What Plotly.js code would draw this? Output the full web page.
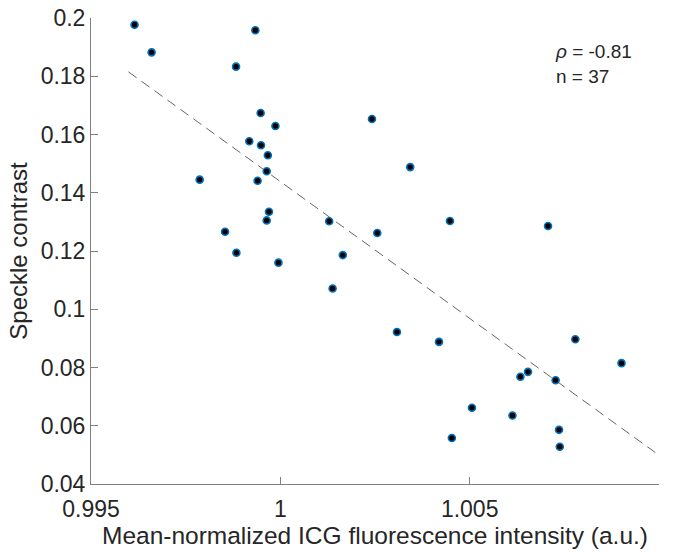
<!DOCTYPE html>
<html>
<head>
<meta charset="utf-8">
<script src="https://cdn.plot.ly/plotly-3.0.1.min.js"></script>
<style>html,body{margin:0;padding:0;background:#fff;}#chart{width:680px;height:552px;}</style>
</head>
<body>
<div id="chart"></div>
<script>
// Data
const icg = [0.99615, 0.9966, 0.99934, 0.99883, 0.99948, 0.99987, 0.99918, 0.99949, 0.99967, 0.99964,
  0.9994, 0.99787, 0.9997, 0.99964, 0.99854, 0.99884, 0.99995, 1.00129, 1.00165, 1.00138,
  1.00242, 1.00343, 1.00256, 1.00448, 1.00308, 1.00419, 1.00707, 1.00779, 1.00901, 1.00634,
  1.00654, 1.00727, 1.00506, 1.00613, 1.00453, 1.00736, 1.00738];
const speckle = [0.1977, 0.1882, 0.1958, 0.1833, 0.1674, 0.1629, 0.1577, 0.1563, 0.1529, 0.1474,
  0.1441, 0.1445, 0.1335, 0.1305, 0.1266, 0.1194, 0.1160, 0.1302, 0.1186, 0.1071,
  0.1653, 0.1488, 0.1262, 0.1303, 0.0922, 0.0888, 0.1286, 0.0897, 0.0815, 0.0768,
  0.0785, 0.0756, 0.0662, 0.0635, 0.0558, 0.0586, 0.0528];
const fitX = [0.99599, 1.0100];
const fitY = [0.1815, 0.0499];
const xTickVals = [0.995, 1, 1.005, 1.01];
const xTickText = ["0.995", "1", "1.005", "1.01"];
const yTickVals = [0.04, 0.06, 0.08, 0.1, 0.12, 0.14, 0.16, 0.18, 0.2];
const yTickText = ["0.04", "0.06", "0.08", "0.1", "0.12", "0.14", "0.16", "0.18", "0.2"];
const statText = "<i>ρ</i> = -0.81<br>n = 37";

const font = 'Arial, "Liberation Sans", Helvetica, sans-serif';
const textColor = '#262626';
const axisColor = '#808080';

const traces = [
  {
    x: fitX, y: fitY, mode: 'lines', type: 'scatter',
    line: {color: '#666666', width: 1, dash: '10px,6px'},
    hoverinfo: 'skip', showlegend: false
  },
  {
    x: icg, y: speckle, mode: 'markers', type: 'scatter',
    marker: {color: '#000000', size: 7, line: {color: '#0072BD', width: 1.6}},
    showlegend: false
  }
];

const layout = {
  width: 680, height: 552,
  margin: {l: 91, r: 21, t: 18, b: 68, pad: 0},
  paper_bgcolor: '#ffffff', plot_bgcolor: '#ffffff',
  font: {family: font, color: textColor, size: 23},
  showlegend: false,
  xaxis: {
    range: [0.995, 1.01], tickvals: xTickVals, ticktext: xTickText,
    showgrid: false, zeroline: false, showline: true, linecolor: axisColor, linewidth: 1,
    ticks: 'inside', ticklen: 7, tickcolor: axisColor, tickwidth: 1,
    ticklabelstandoff: 4,
    tickfont: {size: 23, color: textColor, family: font},
    title: {text: 'Mean-normalized ICG fluorescence intensity (a.u.)', font: {size: 24.5, color: textColor, family: font}, standoff: 5},
    mirror: false
  },
  yaxis: {
    range: [0.04, 0.2], tickvals: yTickVals, ticktext: yTickText,
    showgrid: false, zeroline: false, showline: true, linecolor: axisColor, linewidth: 1,
    ticks: 'inside', ticklen: 7, tickcolor: axisColor, tickwidth: 1,
    tickfont: {size: 23, color: textColor, family: font},
    title: {text: 'Speckle contrast', font: {size: 24, color: textColor, family: font}, standoff: 6},
    mirror: false
  },
  annotations: [{
    xref: 'paper', yref: 'paper', x: 0.814, y: 0.956, xanchor: 'left', yanchor: 'top',
    text: statText, showarrow: false, align: 'left',
    font: {size: 19, color: textColor, family: font}
  }]
};

Plotly.newPlot('chart', traces, layout, {displayModeBar: false, staticPlot: true});
</script>
</body>
</html>
